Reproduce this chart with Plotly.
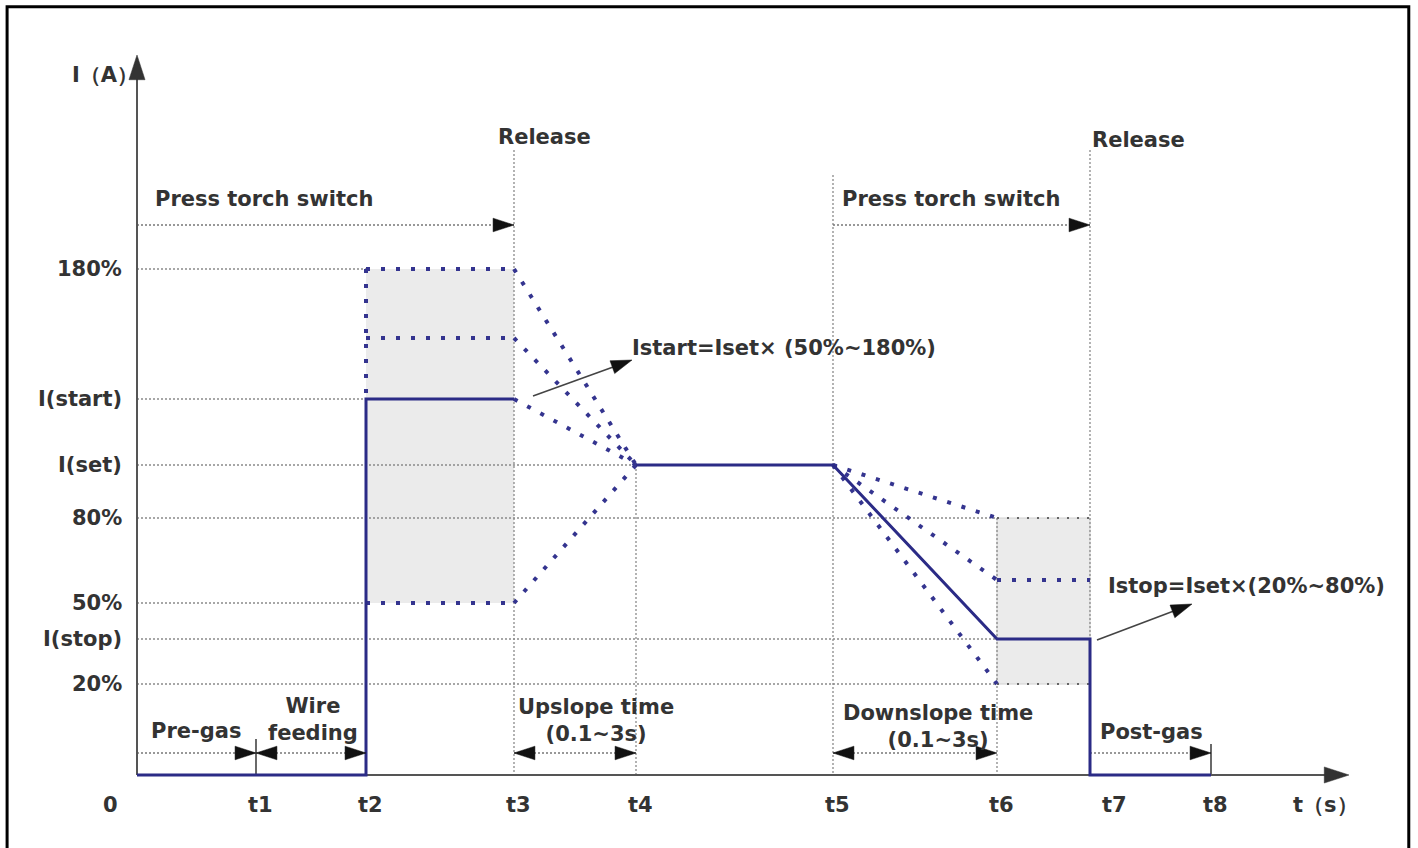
import plotly.graph_objects as go

# time marks along the t axis (schematic units, t0 = origin)
t_names = ["0", "t1", "t2", "t3", "t4", "t5", "t6", "t7", "t8"]
t_vals = [0, 1.19, 2.29, 3.77, 4.99, 6.96, 8.60, 9.53, 10.74]

# labelled current levels on the I axis (schematic units)
level_names = ["20%", "I(stop)", "50%", "80%", "I(set)", "I(start)", "180%"]
level_vals = [0.91, 1.36, 1.72, 2.57, 3.10, 3.76, 5.06]

# unlabelled intermediate start / stop currents
start_mid = 4.37
stop_mid = 1.95

t0, t1, t2, t3, t4, t5, t6, t7, t8 = t_vals
i20, istop, i50, i80, iset, istart, i180 = level_vals

NAVY = "#2b2b86"
GRID = "#8a8a8a"
TXT = "#333333"
FONT = "DejaVu Sans"

fig = go.Figure()


def line(x, y, color, width, dash="solid"):
    fig.add_trace(go.Scatter(x=x, y=y, mode="lines",
                             line=dict(color=color, width=width, dash=dash),
                             hoverinfo="skip", showlegend=False))


def head(x0, y0, x1, y1, color="#111111", size=22):
    # arrow symbol: tip sits on (x1, y1), pointing away from (x0, y0)
    fig.add_trace(go.Scatter(x=[x0, x1], y=[y0, y1], mode="markers",
                             marker=dict(symbol="arrow", angleref="previous",
                                         size=[0, size], color=color, opacity=1,
                                         line=dict(width=0.5, color=color)),
                             hoverinfo="skip", showlegend=False, cliponaxis=False))


# shaded ranges
fig.add_shape(type="rect", x0=t2, x1=t3, y0=i50, y1=i180, fillcolor="#ebebeb",
              line=dict(width=0), layer="below")
fig.add_shape(type="rect", x0=t6, x1=t7, y0=i20, y1=i80, fillcolor="#ebebeb",
              line=dict(color="#d0d0d0", width=1), layer="below")

# grey dotted guide lines
gx = [0, t2, None, 0, t2, None, 0, t4, None, 0, t6, None, 0, t2, None, 0, t6, None, 0, t6, None,
      t3, t3, None, t4, t4, None, t5, t5, None, t6, t6, None, t7, t7]
gy = [i180, i180, None, istart, istart, None, iset, iset, None, i80, i80, None, i50, i50, None,
      istop, istop, None, i20, i20, None,
      6.25, 0, None, iset, 0, None, 6.0, 0, None, i80, 0, None, 6.25, 0]
line(gx, gy, GRID, 1.3, "2px,2px")

# box top / bottom edges in the stop range (sparser dots)
line([t6, t7, None, t6, t7], [i80, i80, None, i20, i20], "#666666", 2, "2px,8px")

# blue dotted possible start / stop currents
bx = [t2, t3, None, t2, t2, None, t2, t3, None, t2, t3, None,
      t3, t4, None, t3, t4, None, t3, t4, None, t3, t4, None,
      t5, t6, None, t5, t6, None, t5, t6, None, t6, t7]
by = [i180, i180, None, i180, istart, None, start_mid, start_mid, None, i50, i50, None,
      i180, iset, None, start_mid, iset, None, istart, iset, None, i50, iset, None,
      iset, i80, None, iset, stop_mid, None, iset, i20, None, stop_mid, stop_mid]
line(bx, by, "#34348f", 4, "4px,11px")

# dotted arrow shafts
arr_y = 0.22
press_y = 5.5
for xa, xb, yy in [(0, t3, press_y), (t5, t7, press_y), (0, t1, arr_y), (t1, t2, arr_y),
                   (t3, t4, arr_y), (t5, t6, arr_y), (t7, t8, arr_y)]:
    line([xa, xb], [yy, yy], "#777777", 1.4, "2px,2px")

# small end ticks at t1 and t8
line([t1, t1, None, t8, t8], [0.36, 0, None, 0.31, 0], "#444444", 1.6)

# axes
line([0, 0], [0, 7.1], "#555555", 2)
line([0, 12.0], [0, 0], "#555555", 2)
head(0, 0, 0, 7.2, "#333333", 26)
head(0, 0, 12.12, 0, "#333333", 26)

# welding current waveform
wx = [0, t2, t2, t3, None, t4, t5, t6, t7, t7, t8]
wy = [0, 0, istart, istart, None, iset, iset, istop, istop, 0, 0]
line(wx, wy, NAVY, 3)

# arrow heads for the dotted shafts
head(0, press_y, t3, press_y)
head(t5, press_y, t7, press_y)
head(0, arr_y, t1, arr_y)
head(t2, arr_y, t1, arr_y)
head(t1, arr_y, t2, arr_y)
head(t4, arr_y, t3, arr_y)
head(t3, arr_y, t4, arr_y)
head(t6, arr_y, t5, arr_y)
head(t5, arr_y, t6, arr_y)
head(t7, arr_y, t8, arr_y)

# pointer arrows to the formulas
line([3.96, 4.90], [3.79, 4.13], "#444444", 1.6)
head(3.96, 3.79, 4.95, 4.15)
line([9.60, 10.50], [1.35, 1.69], "#444444", 1.6)
head(9.60, 1.35, 10.55, 1.71)


def text(x, y, s, anchor="center", size=21, xshift=0):
    fig.add_annotation(x=x, y=y, text="<b>" + s + "</b>", showarrow=False,
                       xanchor=anchor, yanchor="middle", xshift=xshift,
                       font=dict(family=FONT, size=size, color=TXT))


# axis labels
nudge = {"0": -27, "t7": 24}
for name, t in zip(t_names, t_vals):
    text(t, -0.30, name, xshift=nudge.get(name, 4))
for name, v in zip(level_names, level_vals):
    text(-0.13, v, name, anchor="right")
text(-0.32, 7.0, "I（A）")
text(11.88, -0.30, "t（s）")

# annotations
text(4.07, 6.38, "Release")
text(10.01, 6.35, "Release")
text(0.16, 5.76, "Press torch switch", anchor="left")
text(7.03, 5.76, "Press torch switch", anchor="left")
text(4.93, 4.27, "Istart=Iset× (50%~180%)", anchor="left")
text(9.69, 1.89, "Istop=Iset×(20%~80%)", anchor="left")
text(0.59, 0.44, "Pre-gas")
text(1.76, 0.555, "Wire<br>feeding")
text(4.59, 0.55, "Upslope time<br>(0.1~3s)")
text(8.01, 0.49, "Downslope time<br>(0.1~3s)")
text(10.14, 0.43, "Post-gas")

# outer frame
fig.add_shape(type="rect", xref="paper", yref="paper", x0=0.005, x1=0.9935,
              y0=-0.02, y1=0.992, line=dict(color="black", width=3))

fig.update_layout(
    width=1418, height=848, margin=dict(l=0, r=0, t=0, b=0),
    paper_bgcolor="white", plot_bgcolor="white",
    xaxis=dict(range=[-1.37, 12.81], visible=False, fixedrange=True),
    yaxis=dict(range=[-0.73, 7.75], visible=False, fixedrange=True),
    showlegend=False,
)

fig.write_html("out.html", config={"displayModeBar": False},
               post_script="document.body.style.margin='0';")
